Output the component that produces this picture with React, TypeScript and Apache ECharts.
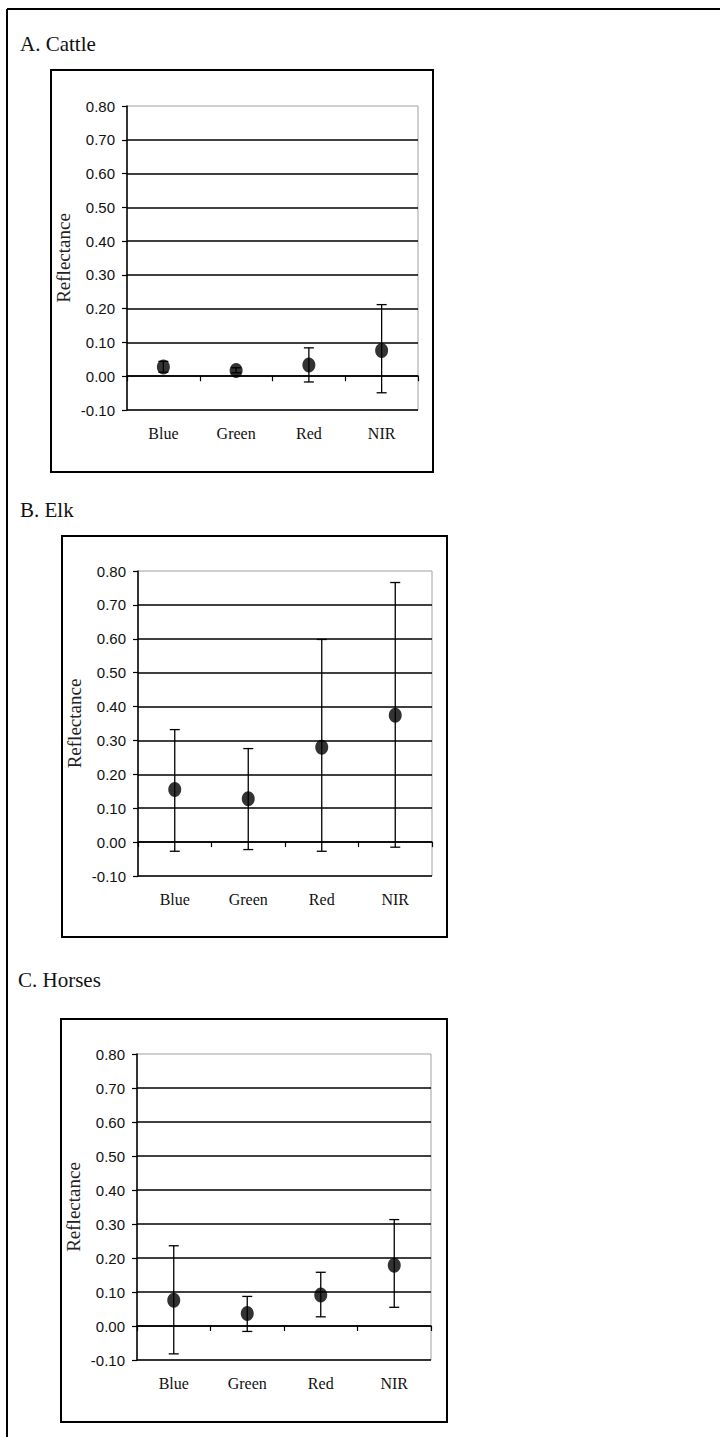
import React, { useEffect, useRef } from "react";
import * as echarts from "echarts";

const categories = ["Blue", "Green", "Red", "NIR"];
const yTickMin = -0.1;
const yTickMax = 0.8;
const yTickStep = 0.1;

const panelTitles = ["A. Cattle", "B. Elk", "C. Horses"];
const yAxisName = "Reflectance";

const cattleMean = [0.027, 0.017, 0.033, 0.076];
const cattleLow = [0.012, 0.01, -0.017, -0.049];
const cattleHigh = [0.044, 0.025, 0.084, 0.212];

const elkMean = [0.155, 0.128, 0.28, 0.374];
const elkLow = [-0.027, -0.022, -0.027, -0.015];
const elkHigh = [0.332, 0.276, 0.598, 0.766];

const horseMean = [0.076, 0.037, 0.091, 0.179];
const horseLow = [-0.082, -0.016, 0.027, 0.055];
const horseHigh = [0.236, 0.087, 0.158, 0.313];

const panelData = [
  { mean: cattleMean, low: cattleLow, high: cattleHigh },
  { mean: elkMean, low: elkLow, high: elkHigh },
  { mean: horseMean, low: horseLow, high: horseHigh },
];

// layout (pixels)
const grids = [
  { left: 127, top: 106, width: 291, height: 304 },
  { left: 138, top: 571, width: 294, height: 305 },
  { left: 137, top: 1054, width: 294, height: 306 },
];
const boxes = [
  { x: 51, y: 70, w: 382, h: 402 },
  { x: 62, y: 536, w: 385, h: 401 },
  { x: 61, y: 1019, w: 386, h: 403 },
];
const titlePos = [
  { x: 20, y: 44 },
  { x: 20, y: 510 },
  { x: 18, y: 980 },
];

export default function App() {
  const ref = useRef<HTMLDivElement>(null);
  useEffect(() => {
    if (!ref.current) return;
    const chart = echarts.init(ref.current, null, { renderer: "svg" });

    const gridOpt = grids.map((g) => ({
      left: g.left,
      top: g.top,
      width: g.width,
      height: g.height,
      show: true,
      borderColor: "#a0a0a0",
      borderWidth: 1,
      backgroundColor: "transparent",
      containLabel: false,
    }));

    const xAxes = grids.map((_, i) => ({
      type: "category",
      gridIndex: i,
      data: categories,
      boundaryGap: true,
      axisLine: { show: true, lineStyle: { color: "#000", width: 1.5 } },
      axisTick: { show: true, length: 5, lineStyle: { color: "#000", width: 1.2 } },
      axisLabel: {
        color: "#111",
        fontFamily: "Liberation Serif",
        fontSize: 16,
        margin: 15,
      },
      splitLine: { show: false },
    }));

    const yAxes = grids.map((_, i) => ({
      type: "value",
      gridIndex: i,
      min: yTickMin,
      max: yTickMax,
      interval: yTickStep,
      name: yAxisName,
      nameLocation: "middle",
      nameGap: 54,
      nameRotate: 90,
      nameTextStyle: {
        color: "#222",
        fontFamily: "Liberation Serif",
        fontSize: 19,
      },
      axisLine: { show: true, lineStyle: { color: "#000", width: 1.5 } },
      axisTick: { show: true, length: 5, lineStyle: { color: "#000", width: 1.2 } },
      axisLabel: {
        color: "#111",
        fontFamily: "Liberation Sans",
        fontSize: 15,
        margin: 12,
        formatter: (v: number) => v.toFixed(2),
      },
      splitLine: {
        show: true,
        showMaxLine: false,
        lineStyle: { color: "#000", width: 1.5 },
      },
    }));

    const series: any[] = [];
    panelData.forEach((p, i) => {
      series.push({
        type: "custom",
        xAxisIndex: i,
        yAxisIndex: i,
        data: categories.map((_, k) => [k, p.low[k], p.high[k]]),
        encode: { x: 0, y: [1, 2] },
        renderItem: (params: any, api: any) => {
          const x = api.value(0);
          const lo = api.coord([x, api.value(1)]);
          const hi = api.coord([x, api.value(2)]);
          const hw = 5;
          const st = { stroke: "#000", lineWidth: 1.3 };
          return {
            type: "group",
            children: [
              { type: "line", shape: { x1: lo[0], y1: lo[1], x2: hi[0], y2: hi[1] }, style: st },
              { type: "line", shape: { x1: lo[0] - hw, y1: lo[1], x2: lo[0] + hw, y2: lo[1] }, style: st },
              { type: "line", shape: { x1: hi[0] - hw, y1: hi[1], x2: hi[0] + hw, y2: hi[1] }, style: st },
            ],
          };
        },
        z: 3,
      });
      series.push({
        type: "scatter",
        xAxisIndex: i,
        yAxisIndex: i,
        data: p.mean,
        symbol: "circle",
        symbolSize: [13, 15],
        itemStyle: { color: "#000" },
        z: 4,
      });
    });

    const graphics: any[] = [
      {
        type: "line",
        shape: { x1: 7, y1: 9, x2: 720, y2: 9 },
        style: { stroke: "#000", lineWidth: 2 },
      },
      {
        type: "line",
        shape: { x1: 7, y1: 9, x2: 7, y2: 1437 },
        style: { stroke: "#000", lineWidth: 2 },
      },
    ];
    boxes.forEach((b) => {
      graphics.push({
        type: "rect",
        shape: { x: b.x, y: b.y, width: b.w, height: b.h },
        style: { fill: "none", stroke: "#000", lineWidth: 2 },
        z: -1,
      });
    });
    titlePos.forEach((t, i) => {
      graphics.push({
        type: "text",
        x: t.x,
        y: t.y,
        style: {
          text: panelTitles[i],
          fontFamily: "Liberation Serif",
          fontSize: 21,
          fill: "#111",
          verticalAlign: "middle",
          align: "left",
        },
      });
    });

    chart.setOption({
      animation: false,
      backgroundColor: "#fff",
      grid: gridOpt,
      xAxis: xAxes,
      yAxis: yAxes,
      series,
      graphic: graphics,
    });
    return () => chart.dispose();
  }, []);

  return (
    <div style={{ position: "absolute", left: 0, top: 0, width: 720, height: 1437 }}>
      <div ref={ref} style={{ width: 720, height: 1437 }} />
    </div>
  );
}
